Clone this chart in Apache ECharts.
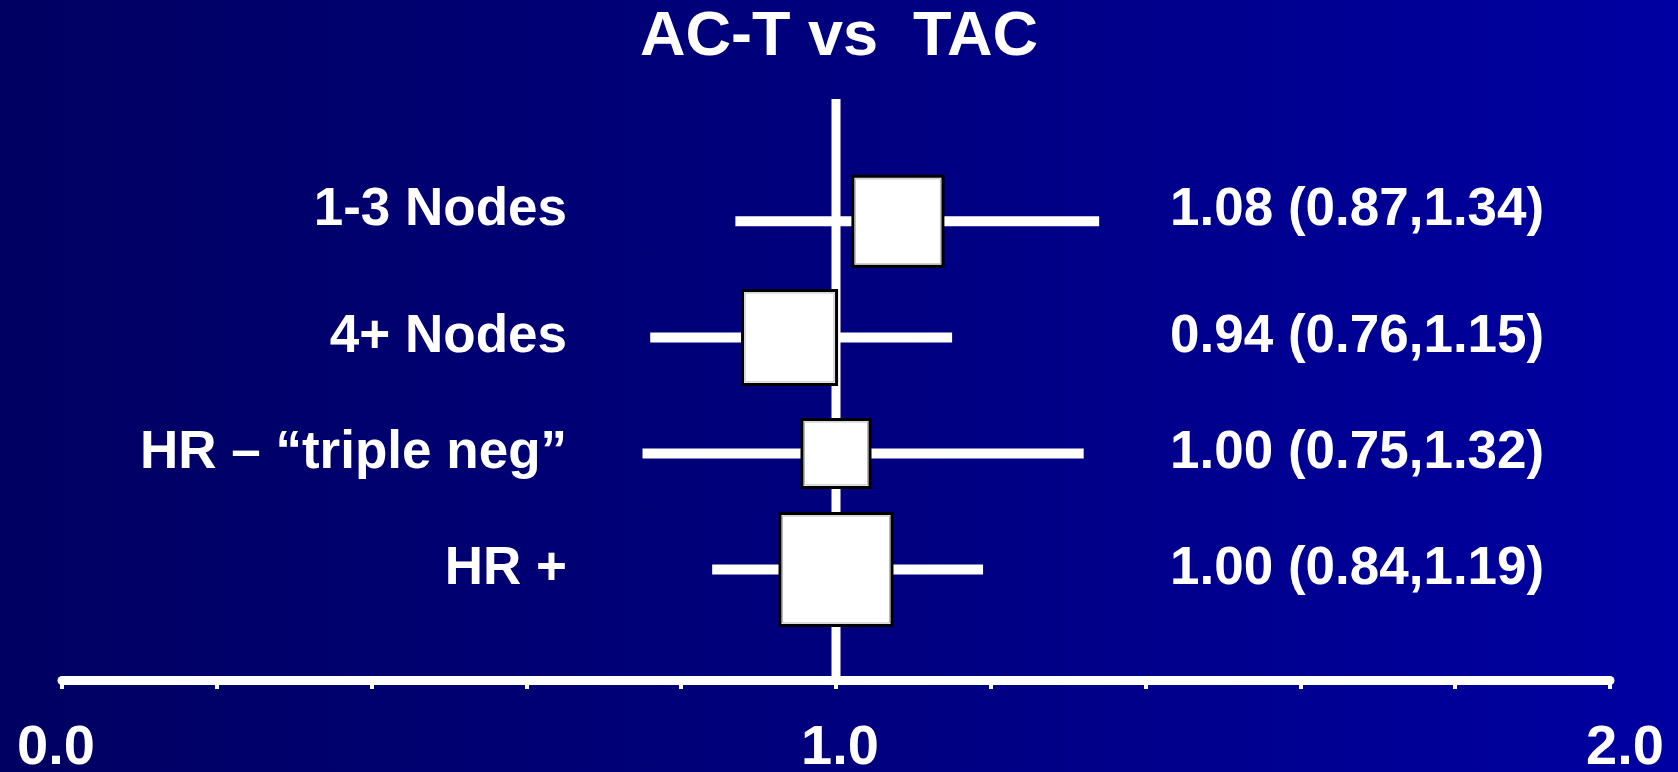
<!DOCTYPE html>
<html>
<head>
<meta charset="utf-8">
<script src="https://cdn.jsdelivr.net/npm/echarts@6/dist/echarts.min.js"></script>
<style>
  html, body { margin: 0; padding: 0; width: 1678px; height: 772px; overflow: hidden;
    background: linear-gradient(to right, #000062 0%, #00007e 50%, #0000a2 100%); }
  #chart { width: 1678px; height: 772px; }
</style>
</head>
<body>
<div id="chart"></div>
<script>
// ---- data ----
const titleText = 'AC-T vs  TAC';
const categories = ['1-3 Nodes', '4+ Nodes', 'HR \u2013 \u201ctriple neg\u201d', 'HR +'];
const hazardRatio = [1.08, 0.94, 1.00, 1.00];
const ciLow = [0.87, 0.76, 0.75, 0.84];
const ciHigh = [1.34, 1.15, 1.32, 1.19];
const xTickLabels = ['0.0', '1.0', '2.0'];
const referenceValue = 1.0;

// ---- style ----
const FONT = '"Liberation Sans", Arial, sans-serif';
const BOX_SIZES = [90, 94, 68, 112];
const LIFTED_ROWS = [true, false, false, false]; // labels sitting a little above their row
const LIFT_LINE = 22;
const WHISKER_W = 10;
const GRID_LEFT = 62, GRID_RIGHT = 68;

const rightLabels = categories.map((c, i) =>
  hazardRatio[i].toFixed(2) + ' (' + ciLow[i].toFixed(2) + ',' + ciHigh[i].toFixed(2) + ')');

const chart = echarts.init(document.getElementById('chart'), null, { renderer: 'canvas' });

const labelStyle = { color: '#fff', fontFamily: FONT, fontWeight: 'bold', fontSize: 53 };

function liftFormatter(value, index) {
  return LIFTED_ROWS[index] ? value + '\n ' : value;
}

const option = {
  backgroundColor: 'transparent',
  animation: false,
  title: {
    text: titleText, left: 'center', top: 1,
    textStyle: { color: '#fff', fontFamily: FONT, fontWeight: 'bold', fontSize: 63 }
  },
  grid: [
    { left: GRID_LEFT, right: GRID_RIGHT, top: 99, bottom: 91.5, outerBoundsMode: 'none', containLabel: false },
    { left: GRID_LEFT, right: GRID_RIGHT, top: 163.3, bottom: 144.5, outerBoundsMode: 'none', containLabel: false }
  ],
  xAxis: [
    {
      gridIndex: 0, type: 'value', min: 0, max: 2, interval: 0.2,
      splitLine: { show: false },
      axisLine: { show: true, lineStyle: { color: '#fff', width: 9 } },
      axisTick: { show: true, length: 8.5, lineStyle: { color: '#fff', width: 4 } },
      axisLabel: {
        margin: 40,
        formatter: function (v) {
          const r = Math.round(v);
          if (Math.abs(v - r) > 1e-6) return '';
          return '{t' + r + '|' + xTickLabels[r] + '}';
        },
        rich: {
          t0: Object.assign({}, labelStyle, { fontSize: 56, padding: [0, 12, 0, 0] }),
          t1: Object.assign({}, labelStyle, { fontSize: 56, padding: [0, 0, 0, 8] }),
          t2: Object.assign({}, labelStyle, { fontSize: 56, padding: [0, 0, 0, 30] })
        }
      }
    },
    { gridIndex: 1, type: 'value', min: 0, max: 2, show: false }
  ],
  yAxis: [
    { gridIndex: 0, type: 'value', min: 0, max: 1, show: false },
    {
      gridIndex: 1, type: 'category', data: categories, inverse: true, position: 'left',
      offset: -505,
      axisLine: { show: false }, axisTick: { show: false }, splitLine: { show: false },
      axisLabel: Object.assign({ interval: 0, margin: 0, align: 'right', lineHeight: LIFT_LINE,
        formatter: liftFormatter }, labelStyle)
    },
    {
      gridIndex: 1, type: 'category', data: rightLabels, inverse: true, position: 'right',
      offset: -440,
      axisLine: { show: false }, axisTick: { show: false }, splitLine: { show: false },
      axisLabel: Object.assign({ interval: 0, margin: 0, align: 'left', lineHeight: LIFT_LINE,
        formatter: liftFormatter }, labelStyle)
    }
  ],
  series: [
    {
      type: 'line', xAxisIndex: 0, yAxisIndex: 0, z: 1,
      data: [[referenceValue, 0], [referenceValue, 1]],
      symbol: 'none', lineStyle: { color: '#fff', width: 9 }, silent: true
    },
    {
      type: 'custom', xAxisIndex: 1, yAxisIndex: 1, z: 3,
      data: categories.map((c, i) => [i, ciLow[i], ciHigh[i], hazardRatio[i]]),
      renderItem: function (params, api) {
        const idx = api.value(0);
        const y = api.coord([0, idx])[1];
        const xl = api.coord([api.value(1), idx])[0];
        const xh = api.coord([api.value(2), idx])[0];
        const xc = api.coord([api.value(3), idx])[0];
        const s = BOX_SIZES[idx];
        return {
          type: 'group',
          children: [
            { type: 'rect', shape: { x: xl, y: y - WHISKER_W / 2, width: xh - xl, height: WHISKER_W },
              style: { fill: '#fff' } },
            { type: 'rect', shape: { x: xc - s / 2, y: y - s / 2, width: s, height: s },
              style: { fill: '#fff', stroke: '#000', lineWidth: 3 } },
            { type: 'rect', shape: { x: xc - s / 2 + 2.5, y: y - s / 2 + 2.5, width: s - 5, height: s - 5 },
              style: { fill: 'none', stroke: '#b8b8b8', lineWidth: 1 } }
          ]
        };
      }
    }
  ]
};
chart.setOption(option);
</script>
</body>
</html>
